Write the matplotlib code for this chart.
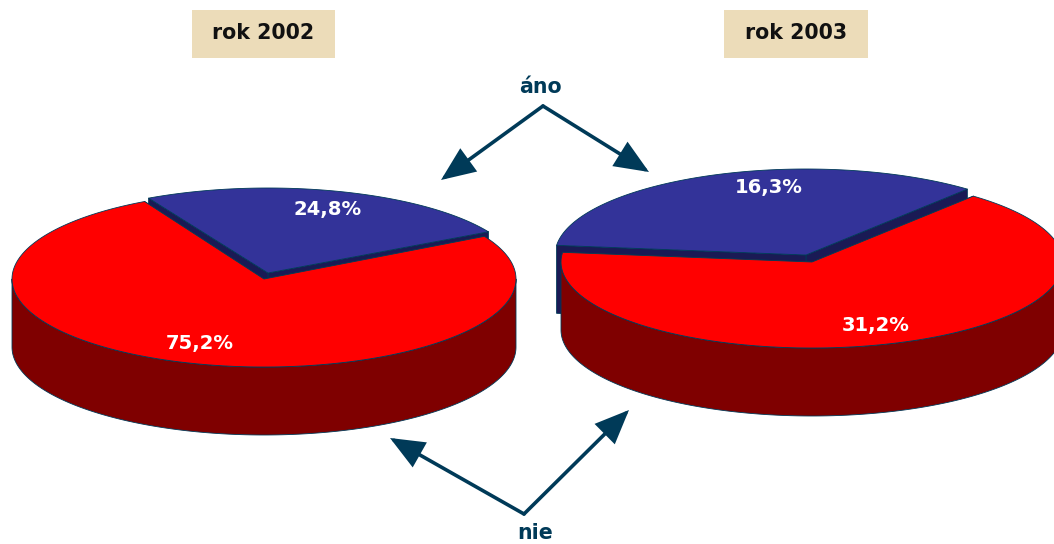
import numpy as np
import matplotlib
matplotlib.use("Agg")
import matplotlib.pyplot as plt
from matplotlib.patches import FancyArrowPatch, Rectangle

# data
years = ["rok 2002", "rok 2003"]
ano_values = [24.8, 16.3]
nie_values = [75.2, 31.2]
ano_label = "áno"
nie_label = "nie"

# colours
BLUE = "#333399"
NAVY = "#1a1a55"
RED = "#ff0000"
DARK_RED = "#7f0000"
LINE = "#003a58"
BOX = "#ecdcb9"

plt.rcParams["font.family"] = ["DejaVu Sans"]

DEPTH = 68


def arc(cx, cy, rx, ry, a0, a1):
    t = np.radians(np.linspace(a0, a1, 240))
    return cx + rx * np.cos(t), cy - ry * np.sin(t)


def poly(ax, x, y, color):
    ax.fill(x, y, facecolor=color, edgecolor=LINE, linewidth=0.6, joinstyle="round")


def draw_slice(ax, cx, cy, rx, ry, a0, a1, top, side):
    x, y = arc(cx, cy, rx, ry, a0, a1)
    # two cut faces
    for px, py in [(x[0], y[0]), (x[-1], y[-1])]:
        poly(ax, [cx, px, px, cx], [cy, py, py + DEPTH, cy + DEPTH], side)
    # outer wall, only the part that faces the viewer
    lo, hi = max(a0, 180), min(a1, 360)
    if hi > lo:
        wx, wy = arc(cx, cy, rx, ry, lo, hi)
        poly(ax, np.r_[wx, wx[::-1]], np.r_[wy, wy[::-1] + DEPTH], side)
    # top face
    poly(ax, np.r_[cx, x], np.r_[cy, y], top)


def draw_pie(ax, ano, nie, start, red_c, blue_c, rx, ry, blue_ry):
    sweep = 360 * ano / (ano + nie)
    # blue one is pulled out and sits behind the red one
    draw_slice(ax, blue_c[0], blue_c[1], rx, blue_ry, start, start + sweep, BLUE, NAVY)
    draw_slice(ax, red_c[0], red_c[1], rx, ry, start + sweep, start + 360, RED, DARK_RED)


def pct(v):
    return f"{v:.1f}".replace(".", ",") + "%"


def arrow(ax, p0, p1):
    ax.add_patch(FancyArrowPatch(p0, p1, arrowstyle="-|>,head_length=1.0,head_width=0.42",
                                 mutation_scale=20, color=LINE, linewidth=2.6,
                                 shrinkA=0, shrinkB=0, joinstyle="miter"))


fig = plt.figure(figsize=(10.54, 5.44), dpi=100)
ax = fig.add_axes([0, 0, 1, 1])
ax.set_xlim(0, 1054)
ax.set_ylim(544, 0)
ax.axis("off")

draw_pie(ax, ano_values[0], nie_values[0], 29, (264, 279), (268, 273), 252, 88, 85)
draw_pie(ax, ano_values[1], nie_values[1], 50, (812, 262), (806, 255), 251, 86, 86)
ax.set_xlim(0, 1054)
ax.set_ylim(544, 0)

# year boxes
for (x0, x1), name in zip([(192, 335), (724, 868)], years):
    ax.add_patch(Rectangle((x0, 10), x1 - x0, 48, facecolor=BOX, edgecolor="none"))
    ax.text((x0 + x1) / 2, 33, name, ha="center", va="center",
            fontsize=14.8, fontweight="bold", color="#111111")

# percent labels
label_pos = [((328, 210), (200, 343)), ((769, 188), (876, 325))]
for i, (pa, pn) in enumerate(label_pos):
    ax.text(pa[0], pa[1], pct(ano_values[i]), ha="center", va="center",
            fontsize=14.1, fontweight="bold", color="white")
    ax.text(pn[0], pn[1], pct(nie_values[i]), ha="center", va="center",
            fontsize=14.1, fontweight="bold", color="white")

# arrows
arrow(ax, (543, 106), (441, 180))
arrow(ax, (543, 106), (649, 172))
arrow(ax, (524, 514), (390, 438))
arrow(ax, (524, 514), (629, 410))
ax.text(540, 87, ano_label, ha="center", va="center", fontsize=14.8,
        fontweight="bold", color=LINE)
ax.text(535, 533, nie_label, ha="center", va="center", fontsize=14.8,
        fontweight="bold", color=LINE)

fig.savefig("out.png", dpi=100, facecolor="white")
